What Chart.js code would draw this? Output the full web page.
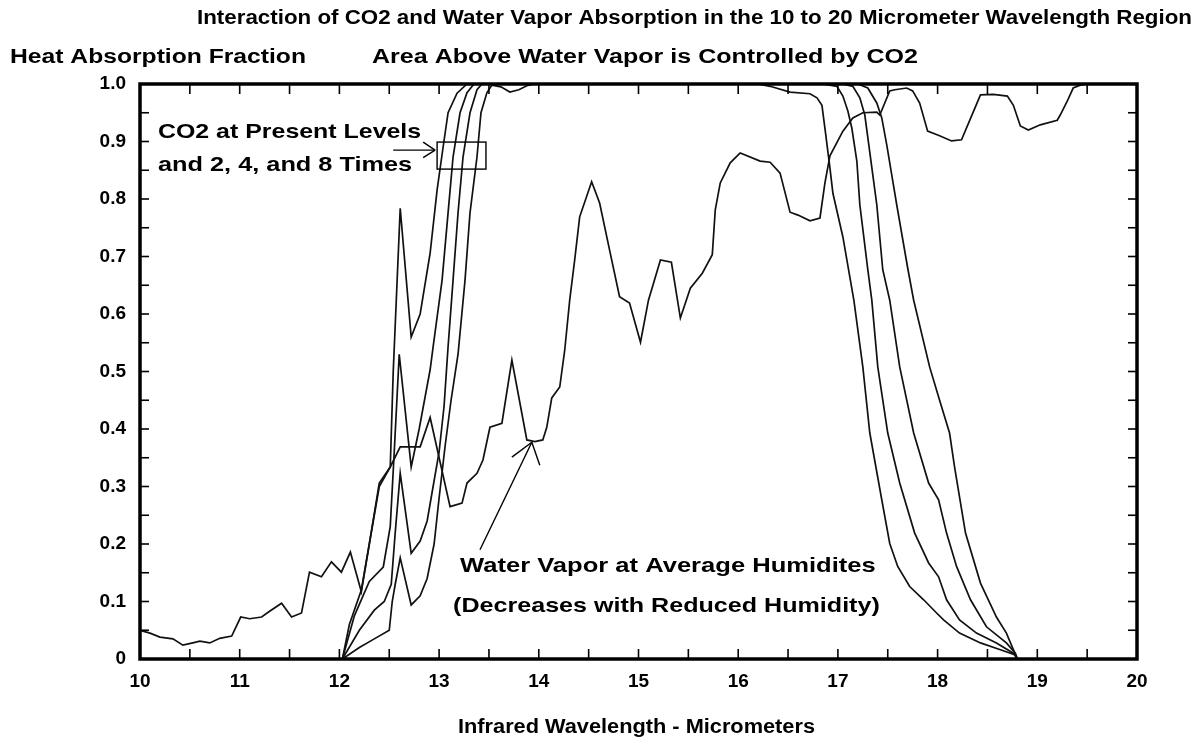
<!DOCTYPE html>
<html>
<head>
<meta charset="utf-8">
<script src="https://cdn.jsdelivr.net/npm/chart.js@4.4.1/dist/chart.umd.min.js"></script>
<style>
  html, body { margin: 0; padding: 0; background: #fff; }
</style>
</head>
<body>
<canvas id="chart" width="1198" height="746"></canvas>
<script>
// water vapor absorption at average humidity
const waterX = [10.0, 10.1, 10.2, 10.33, 10.43, 10.53, 10.6, 10.7, 10.8, 10.92, 11.01, 11.1, 11.22, 11.3, 11.42, 11.52, 11.62, 11.7, 11.82, 11.92,
  12.02, 12.11, 12.22, 12.3, 12.4, 12.51, 12.61, 12.81, 12.91, 13.11, 13.23, 13.28, 13.38, 13.44, 13.51, 13.63, 13.73, 13.88, 13.96, 14.04,
  14.08, 14.13, 14.21, 14.26, 14.31, 14.36, 14.41, 14.53, 14.61, 14.71, 14.81, 14.91, 15.02, 15.1, 15.22, 15.33, 15.42, 15.52, 15.64, 15.74,
  15.77, 15.82, 15.92, 16.02, 16.22, 16.32, 16.42, 16.52, 16.6, 16.72, 16.82, 16.87, 16.92, 17.05, 17.15, 17.25, 17.39, 17.42, 17.52, 17.57,
  17.69, 17.75, 17.82, 17.9, 18.02, 18.14, 18.24, 18.34, 18.43, 18.56, 18.7, 18.76, 18.83, 18.91, 19.03, 19.2, 19.23, 19.3, 19.36, 19.43, 19.5, 20.0];
const waterY = [0.050, 0.045, 0.038, 0.035, 0.024, 0.028, 0.031, 0.028, 0.036, 0.040, 0.073, 0.070, 0.073, 0.083, 0.097, 0.073, 0.080, 0.151, 0.143, 0.169,
  0.151, 0.186, 0.117, 0.200, 0.306, 0.334, 0.369, 0.369, 0.420, 0.265, 0.271, 0.306, 0.323, 0.346, 0.403, 0.410, 0.520, 0.381, 0.378, 0.381,
  0.403, 0.454, 0.473, 0.537, 0.624, 0.694, 0.769, 0.830, 0.793, 0.711, 0.630, 0.619, 0.551, 0.624, 0.694, 0.690, 0.593, 0.645, 0.671, 0.703,
  0.781, 0.828, 0.863, 0.880, 0.866, 0.864, 0.845, 0.777, 0.772, 0.762, 0.767, 0.828, 0.875, 0.918, 0.941, 0.950, 0.951, 0.946, 0.988, 0.990,
  0.993, 0.988, 0.967, 0.918, 0.910, 0.901, 0.903, 0.944, 0.981, 0.982, 0.979, 0.963, 0.927, 0.920, 0.929, 0.937, 0.946, 0.970, 0.993, 0.998, 1.0, 1.0];

// CO2 at present level
const co2x1X = [12.03, 12.2, 12.35, 12.5, 12.53, 12.56, 12.61, 12.72, 12.81, 12.88, 12.95, 13.0, 13.06, 13.12, 13.19, 13.26, 13.31, 13.38, 13.42, 13.48,
  13.53, 13.62, 13.71, 13.8, 13.88, 13.95, 16.2, 16.32, 16.52, 16.72, 16.79, 16.84, 16.87, 16.92, 16.95, 17.05, 17.16, 17.25, 17.32, 17.44,
  17.52, 17.6, 17.72, 17.86, 17.99, 18.06, 18.22, 18.43, 18.63, 18.78, 18.8];
const co2x1Y = [0, 0.02, 0.035, 0.05, 0.1, 0.13, 0.176, 0.094, 0.11, 0.14, 0.2, 0.28, 0.37, 0.45, 0.53, 0.659, 0.776, 0.873, 0.95, 0.985,
  0.998, 0.995, 0.986, 0.99, 0.997, 1.0, 1.0, 0.996, 0.986, 0.983, 0.976, 0.963, 0.923, 0.854, 0.81, 0.734, 0.624, 0.508, 0.393, 0.277,
  0.201, 0.161, 0.126, 0.103, 0.08, 0.068, 0.045, 0.028, 0.016, 0.007, 0];

// CO2 at 2 times
const co2x2X = [12.03, 12.2, 12.35, 12.45, 12.52, 12.56, 12.61, 12.72, 12.81, 12.88, 12.94, 13.0, 13.05, 13.09, 13.14, 13.19, 13.24, 13.31, 13.38, 13.43,
  16.85, 16.99, 17.05, 17.1, 17.14, 17.19, 17.22, 17.3, 17.34, 17.4, 17.5, 17.62, 17.77, 17.91, 18.01, 18.09, 18.22, 18.39, 18.59, 18.76, 18.8];
const co2x2Y = [0, 0.05, 0.085, 0.1, 0.13, 0.22, 0.323, 0.184, 0.205, 0.24, 0.3, 0.36, 0.44, 0.543, 0.659, 0.776, 0.873, 0.95, 0.99, 1.0,
  1.0, 0.996, 0.979, 0.953, 0.923, 0.866, 0.79, 0.677, 0.624, 0.508, 0.393, 0.306, 0.219, 0.167, 0.143, 0.103, 0.068, 0.045, 0.028, 0.01, 0];

// CO2 at 4 times
const co2x4X = [12.03, 12.15, 12.3, 12.44, 12.51, 12.55, 12.6, 12.72, 12.8, 12.91, 12.94, 13.03, 13.09, 13.14, 13.21, 13.28, 13.35,
  17.05, 17.15, 17.22, 17.27, 17.31, 17.35, 17.39, 17.45, 17.52, 17.62, 17.76, 17.91, 18.01, 18.09, 18.19, 18.33, 18.49, 18.69, 18.78, 18.8];
const co2x4Y = [0, 0.075, 0.135, 0.16, 0.23, 0.36, 0.53, 0.334, 0.4, 0.503, 0.543, 0.659, 0.776, 0.873, 0.95, 0.985, 1.0,
  1.0, 0.996, 0.976, 0.946, 0.894, 0.842, 0.79, 0.677, 0.624, 0.508, 0.393, 0.306, 0.277, 0.219, 0.161, 0.103, 0.056, 0.028, 0.01, 0];

// CO2 at 8 times
const co2x8X = [12.03, 12.1, 12.22, 12.3, 12.4, 12.51, 12.54, 12.61, 12.72, 12.81, 12.91, 12.98, 13.04, 13.09, 13.18, 13.28,
  17.2, 17.3, 17.39, 17.44, 17.49, 17.54, 17.59, 17.7, 17.76, 17.92, 18.02, 18.12, 18.17, 18.28, 18.43, 18.59, 18.69, 18.8];
const co2x8Y = [0, 0.06, 0.12, 0.2, 0.3, 0.334, 0.5, 0.784, 0.56, 0.6, 0.706, 0.816, 0.89, 0.95, 0.984, 1.0,
  1.0, 0.993, 0.967, 0.941, 0.894, 0.842, 0.79, 0.68, 0.624, 0.508, 0.45, 0.393, 0.334, 0.219, 0.132, 0.073, 0.045, 0];

const xTickValues = [10, 11, 12, 13, 14, 15, 16, 17, 18, 19, 20];
const yTickLabels = ['0', '0.1', '0.2', '0.3', '0.4', '0.5', '0.6', '0.7', '0.8', '0.9', '1.0'];

const FONT = '"Liberation Sans", Arial, sans-serif';
const pts = (xs, ys) => xs.map((x, i) => ({ x: x, y: ys[i] }));

function curve(label, xs, ys) {
  return {
    label: label,
    data: pts(xs, ys),
    showLine: true,
    borderColor: '#111',
    borderWidth: 1.7,
    pointRadius: 0,
    tension: 0
  };
}

// draw a string stretched/squeezed to span x0..x1
function fitText(ctx, str, x0, x1, yc, size) {
  ctx.save();
  ctx.font = 'bold ' + size + 'px ' + FONT;
  ctx.textBaseline = 'middle';
  ctx.textAlign = 'left';
  ctx.fillStyle = '#000';
  const w = ctx.measureText(str).width;
  ctx.translate(x0, yc);
  ctx.scale((x1 - x0) / w, 1);
  ctx.fillText(str, 0, 0);
  ctx.restore();
}

function seg(ctx, x1, y1, x2, y2) {
  ctx.beginPath();
  ctx.moveTo(x1, y1);
  ctx.lineTo(x2, y2);
  ctx.stroke();
}

const decorations = {
  id: 'decorations',
  afterDatasetsDraw(chart) {
    const { ctx, chartArea: a, scales: { x, y } } = chart;
    const X = v => x.getPixelForValue(v);
    const Y = v => y.getPixelForValue(v);

    ctx.save();
    ctx.strokeStyle = '#000';
    ctx.lineWidth = 1.6;
    // inward ticks on all four sides
    for (let k = 1; k < 20; k++) {
      const px = X(10 + k * 0.5);
      seg(ctx, px, a.bottom, px, a.bottom - 10);
      seg(ctx, px, a.top, px, a.top + 10);
    }
    for (let k = 1; k < 20; k++) {
      const py = Y(k * 0.05);
      seg(ctx, a.left, py, a.left + 9, py);
      seg(ctx, a.right, py, a.right - 9, py);
    }
    ctx.lineWidth = 3.5;
    ctx.strokeRect(a.left, a.top, a.right - a.left, a.bottom - a.top);

    // box around CO2 curves and its arrow
    ctx.lineWidth = 1.4;
    ctx.strokeRect(X(12.98), Y(0.899), X(13.47) - X(12.98), Y(0.852) - Y(0.899));
    seg(ctx, X(12.54), Y(0.885), X(12.96), Y(0.885));
    seg(ctx, X(12.84), Y(0.899), X(12.96), Y(0.885));
    seg(ctx, X(12.84), Y(0.872), X(12.96), Y(0.885));

    // water vapor arrow
    seg(ctx, X(13.41), Y(0.19), X(13.93), Y(0.377));
    seg(ctx, X(13.73), Y(0.351), X(13.93), Y(0.377));
    seg(ctx, X(14.01), Y(0.337), X(13.93), Y(0.377));
    ctx.restore();

    // annotations inside the plot
    fitText(ctx, 'CO2 at Present Levels', X(10.18), X(12.82), Y(0.917), 21);
    fitText(ctx, 'and 2, 4, and 8 Times', X(10.18), X(12.73), Y(0.858), 21);
    fitText(ctx, 'Water Vapor at Average Humidites', X(13.21), X(17.38), Y(0.162), 21);
    fitText(ctx, '(Decreases with Reduced Humidity)', X(13.14), X(17.42), Y(0.092), 21);

    // titles
    fitText(ctx, 'Interaction of CO2 and Water Vapor Absorption in the 10 to 20 Micrometer Wavelength Region', 197, 1192, 18, 20);
    fitText(ctx, 'Heat Absorption Fraction', 10, 306, 57, 20);
    fitText(ctx, 'Area Above Water Vapor is Controlled by CO2', 372, 918, 57, 20);
    fitText(ctx, 'Infrared Wavelength - Micrometers', 458, 815, 727, 20);
  }
};

new Chart(document.getElementById('chart'), {
  type: 'scatter',
  data: {
    datasets: [
      curve('Water Vapor', waterX, waterY),
      curve('CO2 x1', co2x1X, co2x1Y),
      curve('CO2 x2', co2x2X, co2x2Y),
      curve('CO2 x4', co2x4X, co2x4Y),
      curve('CO2 x8', co2x8X, co2x8Y)
    ]
  },
  options: {
    responsive: false,
    animation: false,
    devicePixelRatio: 1,
    layout: { padding: { top: 84, right: 61, left: 0, bottom: 0 } },
    plugins: { legend: { display: false }, tooltip: { enabled: false } },
    scales: {
      x: {
        type: 'linear',
        min: 10,
        max: 20,
        grid: { display: false, drawTicks: false },
        border: { display: false },
        afterBuildTicks: s => { s.ticks = xTickValues.map(v => ({ value: v })); },
        ticks: { color: '#000', padding: 11, maxRotation: 0, autoSkip: false, font: { family: FONT, size: 19, weight: 'bold' } },
        afterFit: s => { s.height = 87; }
      },
      y: {
        type: 'linear',
        min: 0,
        max: 1,
        grid: { display: false, drawTicks: false },
        border: { display: false },
        ticks: {
          stepSize: 0.1,
          color: '#000',
          padding: 14,
          font: { family: FONT, size: 19, weight: 'bold' },
          callback: v => yTickLabels[Math.round(v * 10)]
        },
        afterFit: s => { s.width = 140; }
      }
    }
  },
  plugins: [decorations]
});
</script>
</body>
</html>
